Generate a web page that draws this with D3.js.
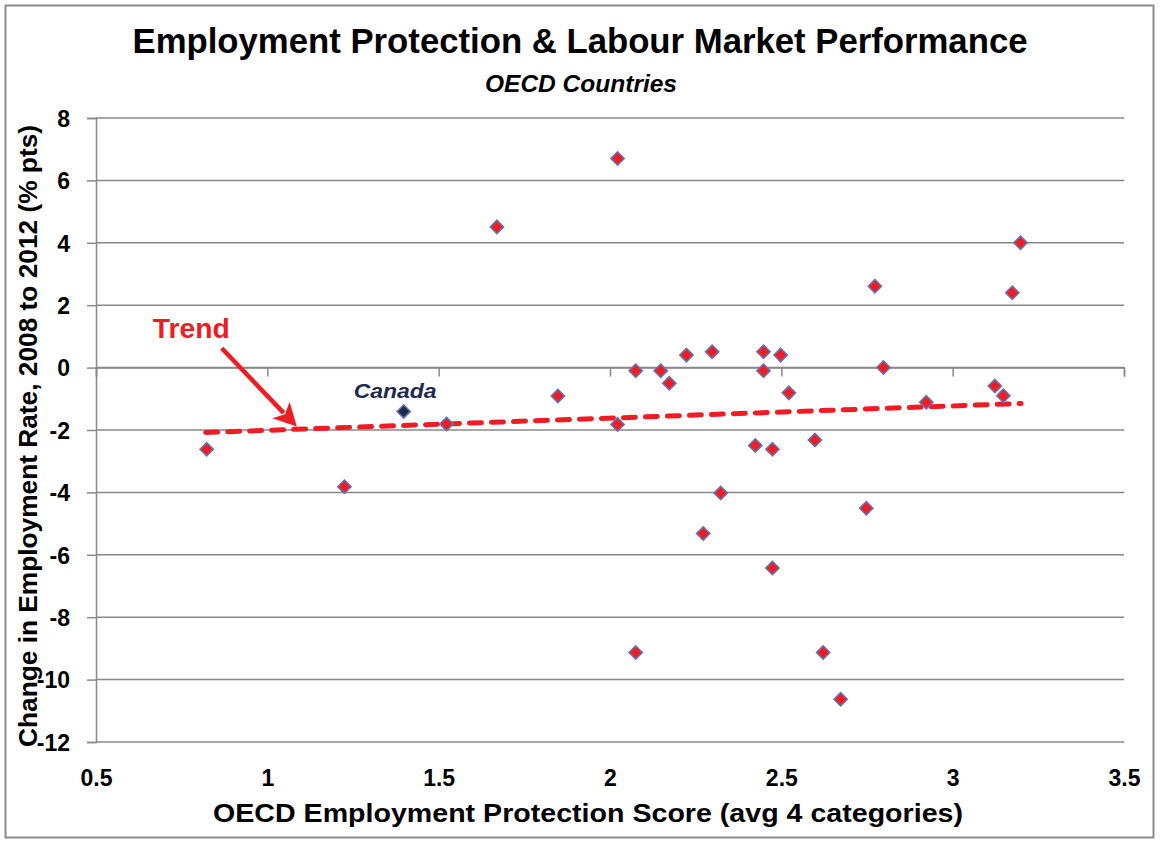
<!DOCTYPE html>
<html>
<head>
<meta charset="utf-8">
<script src="https://cdn.jsdelivr.net/npm/d3@7"></script>
<style>
  html, body { margin: 0; padding: 0; background: #fff; }
  svg { display: block; }
  text { font-family: "Liberation Sans", Arial, sans-serif; }
</style>
</head>
<body>
<svg id="chart" width="1161" height="842"></svg>
<script>
// ---- Data ----
const countryLabels = ["", "", "Canada", "", "", "", "", "", "", "", "", "", "", "", "", "", "", "", "", "", "", "", "", "", "", "", "", "", "", "", "", "", "", ""];
const epScore = [0.823, 1.225, 1.398, 1.523, 1.670, 1.848, 2.022, 2.022, 2.075, 2.075, 2.148, 2.173, 2.223, 2.272, 2.298, 2.323, 2.424, 2.448, 2.448, 2.474, 2.474, 2.498, 2.522, 2.598, 2.622, 2.673, 2.748, 2.773, 2.798, 2.923, 3.123, 3.148, 3.174, 3.198];
const empChange = [-2.62, -3.82, -1.41, -1.81, 4.51, -0.91, 6.70, -1.82, -0.10, -9.13, -0.10, -0.50, 0.40, -5.32, 0.51, -4.02, -2.50, 0.51, -0.10, -2.62, -6.42, 0.40, -0.81, -2.32, -9.13, -10.63, -4.51, 2.61, 0.00, -1.11, -0.59, -0.90, 2.40, 4.00];
const trendX = [0.82, 3.20];
const trendY = [-2.08, -1.15];
const xTicks = [0.5, 1, 1.5, 2, 2.5, 3, 3.5];
const yTicks = [8, 6, 4, 2, 0, -2, -4, -6, -8, -10, -12];
// annotation anchors (data units)
const trendLabelPos = [0.666, 0.94];
const arrowFrom = [0.867, 0.62];
const arrowTo = [1.086, -1.89];
const canadaLabelPos = [1.373, -0.98];

const titleText = "Employment Protection & Labour Market Performance";
const subtitleText = "OECD Countries";
const xTitle = "OECD Employment Protection Score (avg 4 categories)";
const yTitle = "Change in Employment Rate, 2008 to 2012 (% pts)";

// ---- Layout ----
const svg = d3.select("#chart");
const plotL = 96, plotR = 1124, plotT = 118, plotB = 742;
const x = d3.scaleLinear().domain([0.5, 3.5]).range([plotL, plotR]);
const y = d3.scaleLinear().domain([-12, 8]).range([plotB, plotT]);
const grid = "#888888";
const red = "#f01c24";

// outer frame
svg.append("rect").attr("x", 5.5).attr("y", 5.5).attr("width", 1148).attr("height", 832)
  .attr("fill", "#fff").attr("stroke", "#8c8c8c").attr("stroke-width", 2);

// titles
svg.append("text").attr("x", 580).attr("y", 53).attr("text-anchor", "middle")
  .attr("font-size", 35).attr("font-weight", "bold").attr("fill", "#000")
  .attr("textLength", 895).attr("lengthAdjust", "spacingAndGlyphs").text(titleText);
svg.append("text").attr("x", 581).attr("y", 92).attr("text-anchor", "middle")
  .attr("font-size", 24).attr("font-weight", "bold").attr("font-style", "italic").attr("fill", "#000")
  .attr("textLength", 192).attr("lengthAdjust", "spacingAndGlyphs").text(subtitleText);

// horizontal gridlines
svg.append("g").selectAll("line").data(yTicks).join("line")
  .attr("x1", plotL).attr("x2", plotR)
  .attr("y1", d => y(d)).attr("y2", d => y(d))
  .attr("stroke", grid).attr("stroke-width", 1.5);

// y axis
const yAxis = svg.append("g").attr("transform", `translate(${plotL},0)`)
  .call(d3.axisLeft(y).tickValues(yTicks).tickSize(9).tickPadding(17).tickFormat(d => String(d)));
yAxis.attr("font-size", 23).attr("font-family", "Liberation Sans, Arial, sans-serif");
yAxis.select(".domain").attr("stroke", grid).attr("stroke-width", 1.5);
yAxis.selectAll(".tick line").attr("stroke", grid).attr("stroke-width", 1.5);
yAxis.selectAll(".tick text").attr("font-size", 23).attr("font-weight", "bold")
  .attr("fill", "#000").attr("dy", "0.36em");

// x axis crossing at y=0
const xAxis = svg.append("g").attr("transform", `translate(0,${y(0)})`)
  .call(d3.axisBottom(x).tickValues(xTicks).tickSize(9).tickFormat(""));
xAxis.select(".domain").attr("stroke", grid).attr("stroke-width", 1.5);
xAxis.selectAll(".tick line").attr("stroke", grid).attr("stroke-width", 1.5);

// x tick labels at bottom
const xLab = svg.append("g").attr("transform", `translate(0,${plotB})`)
  .call(d3.axisBottom(x).tickValues(xTicks).tickSize(0).tickPadding(28).tickFormat(d => String(d)));
xLab.attr("font-size", 23).attr("font-family", "Liberation Sans, Arial, sans-serif");
xLab.select(".domain").remove();
xLab.selectAll(".tick text").attr("font-size", 23).attr("font-weight", "bold")
  .attr("fill", "#000");

// axis titles
svg.append("text").attr("x", 588).attr("y", 822).attr("text-anchor", "middle")
  .attr("font-size", 26).attr("font-weight", "bold").attr("fill", "#000")
  .attr("textLength", 750).attr("lengthAdjust", "spacingAndGlyphs").text(xTitle);
svg.append("text").attr("transform", "translate(37,436) rotate(-90)").attr("text-anchor", "middle")
  .attr("font-size", 25).attr("font-weight", "bold").attr("fill", "#000")
  .attr("textLength", 622).attr("lengthAdjust", "spacingAndGlyphs").text(yTitle);

// trend line
svg.append("line")
  .attr("x1", x(trendX[0])).attr("y1", y(trendY[0]))
  .attr("x2", x(trendX[1])).attr("y2", y(trendY[1]))
  .attr("stroke", red).attr("stroke-width", 5).attr("stroke-dasharray", "12,10")
  .attr("stroke-linecap", "round");

// points
const pts = epScore.map((v, i) => ({ x: v, y: empChange[i], label: countryLabels[i] }));
svg.append("g").selectAll("path").data(pts).join("path")
  .attr("d", d3.symbol(d3.symbolSquare, 88))
  .attr("transform", d => `translate(${x(d.x)},${y(d.y)}) rotate(45)`)
  .attr("fill", d => d.label === "Canada" ? "#1c2a4e" : red)
  .attr("stroke", "#6a70ac").attr("stroke-width", 1.6);

// Canada label
svg.append("text").attr("x", x(canadaLabelPos[0])).attr("y", y(canadaLabelPos[1]))
  .attr("text-anchor", "middle").attr("font-size", 21).attr("font-weight", "bold")
  .attr("font-style", "italic").attr("fill", "#1c2a4e")
  .attr("textLength", 83).attr("lengthAdjust", "spacingAndGlyphs").text("Canada");

// Trend annotation
svg.append("text").attr("x", x(trendLabelPos[0])).attr("y", y(trendLabelPos[1]))
  .attr("font-size", 28).attr("font-weight", "bold").attr("fill", red)
  .attr("textLength", 77).attr("lengthAdjust", "spacingAndGlyphs").text("Trend");

const ax0 = x(arrowFrom[0]), ay0 = y(arrowFrom[1]), ax1 = x(arrowTo[0]), ay1 = y(arrowTo[1]);
const len = Math.hypot(ax1 - ax0, ay1 - ay0);
const ux = (ax1 - ax0) / len, uy = (ay1 - ay0) / len;
const headLen = 23, headHalf = 12;
svg.append("line")
  .attr("x1", ax0).attr("y1", ay0)
  .attr("x2", ax1 - ux * (headLen - 4)).attr("y2", ay1 - uy * (headLen - 4))
  .attr("stroke", red).attr("stroke-width", 4.5);
const bx = ax1 - ux * headLen, by = ay1 - uy * headLen;
svg.append("path")
  .attr("d", `M${ax1},${ay1} L${bx - uy * headHalf},${by + ux * headHalf} L${ax1 - ux * (headLen - 6)},${ay1 - uy * (headLen - 6)} L${bx + uy * headHalf},${by - ux * headHalf} Z`)
  .attr("fill", red);
</script>
</body>
</html>
